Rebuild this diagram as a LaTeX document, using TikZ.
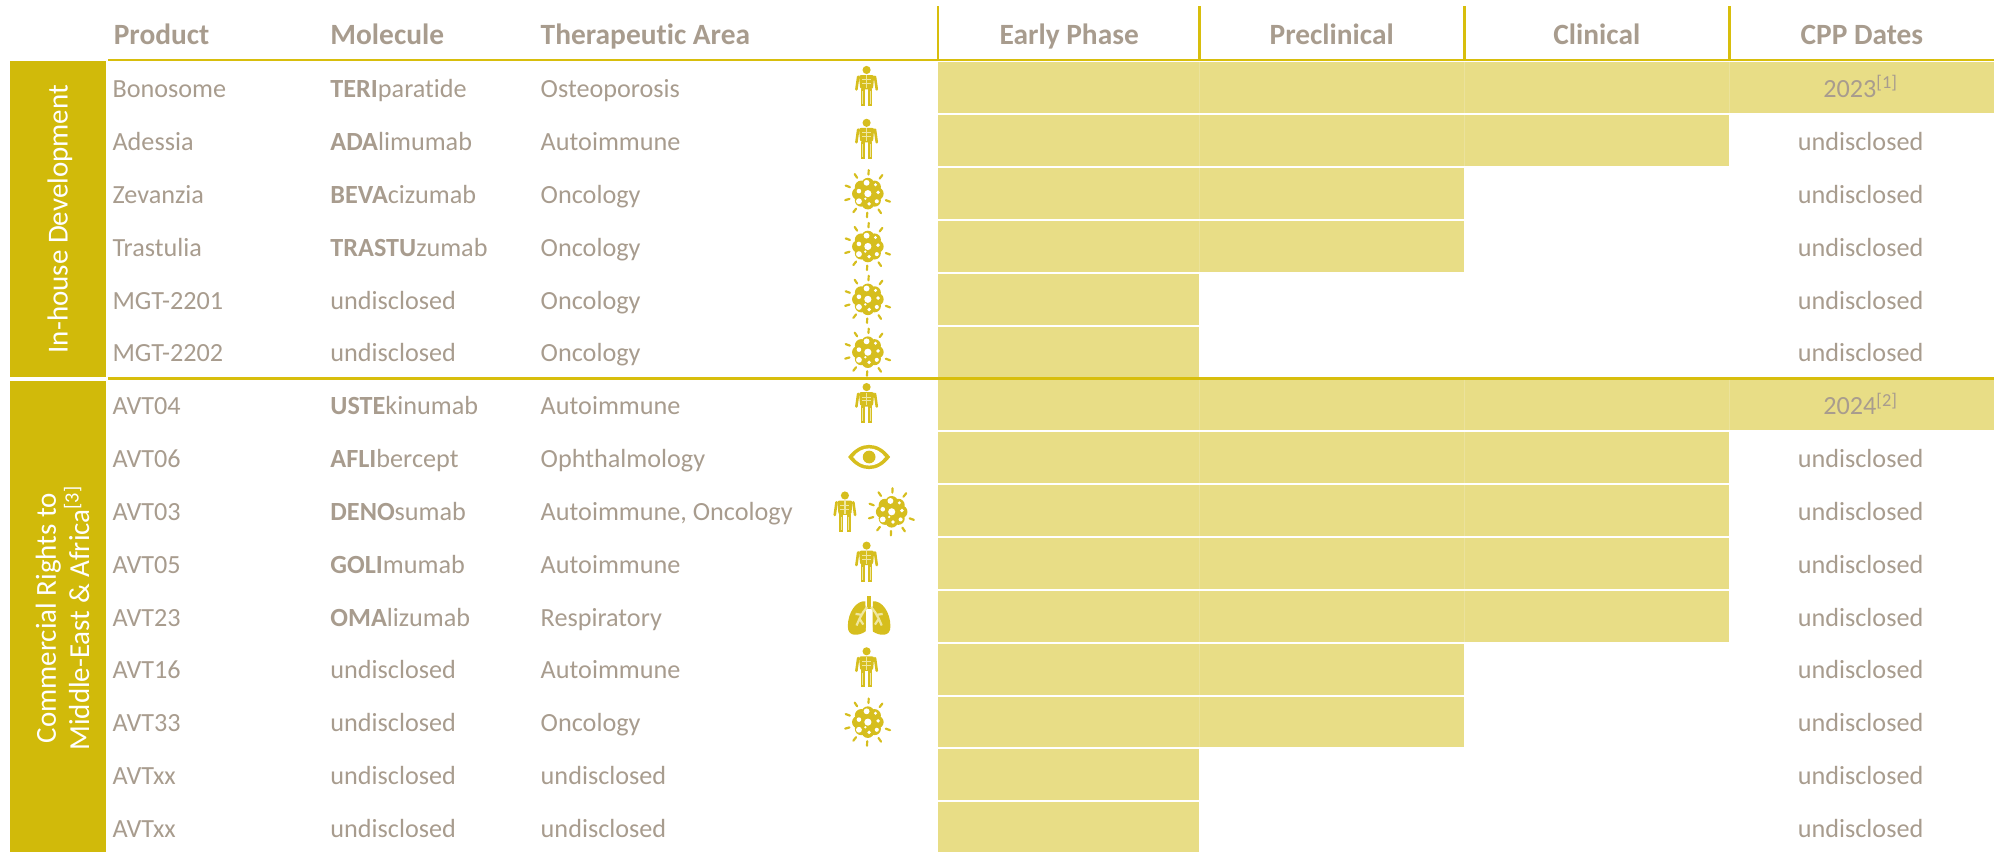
\documentclass[tikz,border=0pt]{standalone}
\usepackage{fontspec}
\setmainfont{Carlito}[Ligatures=CommonOff]
\definecolor{txt}{HTML}{A89C8E}
\definecolor{gold}{HTML}{D1BA0A}
\definecolor{rulec}{HTML}{D8BE0C}
\definecolor{barc}{HTML}{E8DD86}
\definecolor{seam}{HTML}{EBE29B}
\definecolor{iconc}{HTML}{D6BE1E}
\definecolor{iconl}{HTML}{EFE7A0}
\tikzset{
  bodytext/.style={anchor=base west,inner sep=0pt,text=txt,font=\fontsize{13.1pt}{15pt}\selectfont},
  headtext/.style={anchor=base west,inner sep=0pt,text=txt,font=\fontsize{14.7pt}{16pt}\selectfont\bfseries},
  headmid/.style={headtext,anchor=base},
  cpptext/.style={bodytext,anchor=base},
  bandtext/.style={inner sep=0pt,text=white,rotate=90,align=center,font=\fontsize{14.5pt}{16.6pt}\selectfont},
  goldrule/.style={draw=rulec,line width=1.4pt},
  person/.pic={
    \fill[iconc] (0,-12.8) circle (3.2);
    \fill[iconc,rounded corners=1pt] (-6,-8.8) -- (6,-8.8) -- (5,2.5) -- (-5,2.5) -- cycle;
    \draw[iconc,line width=1.3pt,line cap=round] (-6.6,-7.5) -- (-8,2.5);
    \draw[iconc,line width=1.3pt,line cap=round] (6.6,-7.5) -- (8,2.5);
    \draw[iconc,line width=1.9pt] (-2.9,2) -- (-2.9,15.5);
    \draw[iconc,line width=1.9pt] (2.9,2) -- (2.9,15.5);
    \draw[iconl,line width=0.9pt] (0,-8.5) -- (0,1.5);
    \draw[iconl,line width=0.5pt] (-3.5,-5) -- (3.5,-5) (-3.5,-2) -- (3.5,-2) (-2.9,4) -- (-2.9,14) (2.9,4) -- (2.9,14);
  },
  virus/.pic={
    \foreach \ang in {20,56,...,340}{
      \draw[iconc,line width=1.1pt,line cap=round] (\ang:15) -- (\ang:18.5);
    }
    \fill[iconc] (0,0) circle (7.5);
    \foreach \ang in {0,45,...,315}{\fill[iconc] (\ang:7.4) circle (5);}
    \foreach \px/\py/\pr in {0/0/2.8,-7/-2/1.8,6/-7/1.3,-1/-8.5/2.3,8/-1/1.5,-7/6/2.3,1/8/1.5,7/6/1.6,-2/4/1}{
      \fill[white] (\px,\py) circle (\pr);
    }
  },
  eyeicon/.pic={
    \fill[iconc] (-16.5,0) .. controls (-7,-12.7) and (7,-12.7) .. (16.5,0) .. controls (7,12.7) and (-7,12.7) .. (-16.5,0) -- cycle;
    \fill[white] (-12.5,0) .. controls (-6,-9) and (6,-9) .. (12.5,0) .. controls (6,9) and (-6,9) .. (-12.5,0) -- cycle;
    \fill[iconc] (0,0) circle (5);
  },
  lungs/.pic={
    \begin{scope}[scale=0.76]
    \fill[iconc] (-2.3,-21) rectangle (2.3,-8);
    \fill[iconc] (-4,-16) .. controls (-13,-17) and (-22,-5) .. (-22,10) .. controls (-22,21) and (-11,20) .. (-3.5,15) -- (-3.5,-7) -- cycle;
    \fill[iconc] (4,-16) .. controls (13,-17) and (22,-5) .. (22,10) .. controls (22,21) and (11,20) .. (3.5,15) -- (3.5,-7) -- cycle;
    \fill[white] (-3.6,17) .. controls (-3,-3) and (3,-3) .. (3.6,17) -- cycle;
    \draw[iconl,line width=1.1pt] (-2,-10) -- (-6,-5) -- (-10,2) -- (-13,9) (-7,-2) -- (-14,-3) (-10,2) -- (-6,8);
    \draw[iconl,line width=1.1pt] (2,-10) -- (6,-5) -- (10,2) -- (13,9) (7,-2) -- (14,-3) (10,2) -- (6,8);
    \end{scope}
  }
}
\begin{document}
\begin{tikzpicture}[x=0.6372pt,y=-0.6372pt]
\useasboundingbox (0,0) rectangle (1568.6,667.8);
% rules and headers
\draw[goldrule] (85,47) -- (1565,47);
\draw[goldrule] (85,297) -- (1565,297);
\foreach \cx in {736,941,1149,1357}{ \draw[goldrule] (\cx,5) -- (\cx,47); }
\node[headtext] (hp) at (89,35) {Product};
\node[headtext] (hm) at (259,35) {Molecule};
\node[headtext] (ha) at (424,35) {Therapeutic Area};
\node[headmid] (he) at (839,35) {Early Phase};
\node[headmid] (hq) at (1045,35) {Preclinical};
\node[headmid] (hc) at (1253,35) {Clinical};
\node[headmid] (hd) at (1461,35) {CPP Dates};
% side bands
\fill[gold] (8,48) rectangle (83,296);
\fill[gold] (8,299) rectangle (83,670);
\node[bandtext] (b1) at (47,172) {In-house Development};
\node[bandtext] (b2) at (49,485) {Commercial Rights to\\Middle-East \& Africa\textsuperscript{[3]}};
% bars
\foreach \i/\xe in {0/1565,1/1357,2/1149,3/1149,4/941,5/941,6/1565,7/1357,8/1357,9/1357,10/1357,11/1149,12/1149,13/941,14/941}{
  \pgfmathsetmacro{\yt}{49+41.47*\i}
  \pgfmathsetmacro{\yb}{\yt+39.8}
  \fill[barc] (736,\yt) rectangle (\xe,\yb);
  \foreach \sx in {941,1149,1357}{
    \ifdim\sx pt<\xe pt \draw[seam,line width=0.3pt] (\sx,\yt) -- (\sx,\yb); \fi
  }
}
% text rows
\foreach \i/\pn/\mn/\an/\cp in {
 0/Bonosome/\textbf{TERI}paratide/Osteoporosis/2023\textsuperscript{[1]},
 1/Adessia/\textbf{ADA}limumab/Autoimmune/undisclosed,
 2/Zevanzia/\textbf{BEVA}cizumab/Oncology/undisclosed,
 3/Trastulia/\textbf{TRASTU}zumab/Oncology/undisclosed,
 4/MGT-2201/undisclosed/Oncology/undisclosed,
 5/MGT-2202/undisclosed/Oncology/undisclosed,
 6/AVT04/\textbf{USTE}kinumab/Autoimmune/2024\textsuperscript{[2]},
 7/AVT06/\textbf{AFLI}bercept/Ophthalmology/undisclosed,
 8/AVT03/\textbf{DENO}sumab/{Autoimmune, Oncology}/undisclosed,
 9/AVT05/\textbf{GOLI}mumab/Autoimmune/undisclosed,
 10/AVT23/\textbf{OMA}lizumab/Respiratory/undisclosed,
 11/AVT16/undisclosed/Autoimmune/undisclosed,
 12/AVT33/undisclosed/Oncology/undisclosed,
 13/AVTxx/undisclosed/undisclosed/undisclosed,
 14/AVTxx/undisclosed/undisclosed/undisclosed}{
  \pgfmathsetmacro{\yb}{76.6+41.47*\i}
  \node[bodytext] (p\i) at (88,\yb) {\pn};
  \node[bodytext] (m\i) at (259,\yb) {\mn};
  \node[bodytext] (a\i) at (424,\yb) {\an};
  \node[cpptext] (c\i) at (1460,\yb) {\cp};
}
% icons
\foreach \i in {0,1,6,9,11}{ \pgfmathsetmacro{\yy}{67.7+41.47*\i} \pic at (680,\yy) {person}; }
\foreach \i in {2,3,4,5,12}{ \pgfmathsetmacro{\yy}{69+41.47*\i} \pic at (681,\yy) {virus}; }
\pic at (682,358.6) {eyeicon};
\pic at (663,401.6) {person};
\pic at (699.7,401.6) {virus};
\pic at (682,484) {lungs};
\end{tikzpicture}
\end{document}
